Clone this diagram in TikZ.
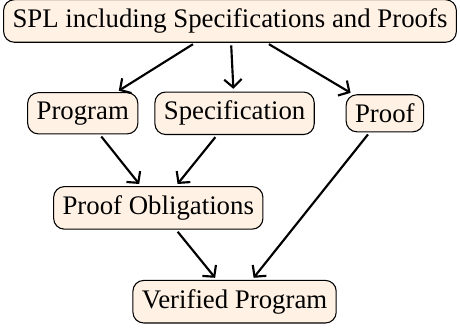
\documentclass[tikz,border=0pt]{standalone}
\usepackage{fontspec}
\setmainfont{Liberation Serif}
\usetikzlibrary{calc,arrows,arrows.meta,positioning}
\tikzset{%
    spl_block/.style={%
        rectangle, rounded corners=4pt, draw=black, fill=orange!10, text centered
    },
    flow/.style={%
        -{Straight Barb[length=3pt,width=6.5pt]}, thick, shorten >=1pt, shorten <=1pt
    },
}
\begin{document}
\begin{tikzpicture}
      \useasboundingbox (-3.015,0.275) rectangle (3.015,-4.012);
      \node[spl_block] (spl) at (0,0) {SPL including Specifications and Proofs};
      \node[spl_block] (prog) at (-1.93,-1.21) {Program};
      \node[spl_block] (spec) at (0.06,-1.21) {Specification};
      \node[spl_block] (proof) at (2.03,-1.21) {Proof};
      \node[spl_block] (po) at (-0.94,-2.45) {Proof Obligations};
      \node[spl_block] (verified) at (0.06,-3.68) {Verified Program};
      \draw[flow] (spl) -- (prog);
      \draw[flow] (spl) -- (spec);
      \draw[flow] (spl) -- (proof);
      \draw[flow] (prog) -- (po);
      \draw[flow] (spec) -- (po);
      \draw[flow] (po) -- (verified);
      \draw[flow] (proof) -- (verified);
\end{tikzpicture}
\end{document}
